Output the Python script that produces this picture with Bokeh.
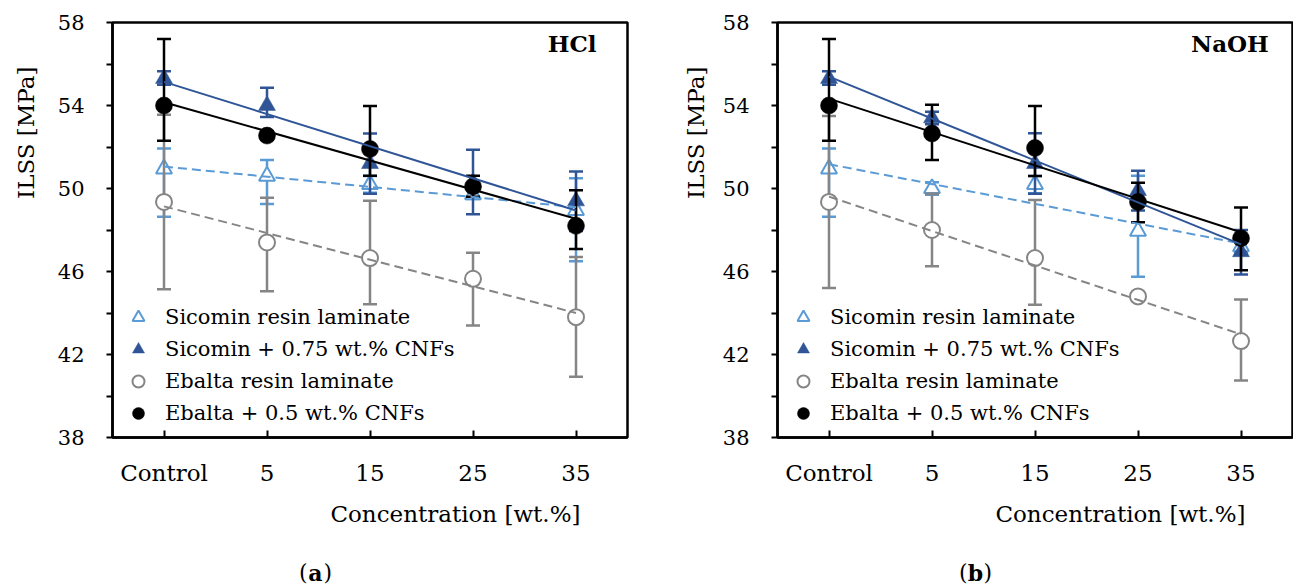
import numpy as np
from bokeh.plotting import figure
from bokeh.layouts import row, column
from bokeh.models import Range1d, FixedTicker, Legend, LegendItem, Label
from bokeh.embed import file_html
from bokeh.resources import INLINE

# ---- categories and ticks ----
categories = ["Control", "5", "15", "25", "35"]
positions = [0, 1, 2, 3, 4]
y_ticks = [38, 42, 46, 50, 54, 58]
y_minor_ticks = [40, 44, 48, 52, 56]

series_labels = [
    "Sicomin resin laminate",
    "Sicomin + 0.75 wt.% CNFs",
    "Ebalta resin laminate",
    "Ebalta + 0.5 wt.% CNFs",
]

# ---- HCl ageing: mean ILSS [MPa] with lower / upper error-bar ends ----
hcl_sicomin = [50.95, 50.6, 50.2, 49.7, 48.95]
hcl_sicomin_lo = [48.64, 49.25, 49.8, 49.5, 46.5]
hcl_sicomin_hi = [51.93, 51.37, 50.6, 49.9, 50.5]

hcl_sicomin_cnf = [55.3, 54.0, 51.2, 50.3, 49.4]
hcl_sicomin_cnf_lo = [55.0, 53.45, 49.75, 48.76, 47.95]
hcl_sicomin_cnf_hi = [55.65, 54.85, 52.65, 51.87, 50.82]

hcl_ebalta = [49.35, 47.4, 46.65, 45.65, 43.8]
hcl_ebalta_lo = [45.15, 45.05, 44.42, 43.4, 40.93]
hcl_ebalta_hi = [53.55, 49.55, 49.41, 46.9, 46.7]

hcl_ebalta_cnf = [54.0, 52.55, 51.9, 50.1, 48.2]
hcl_ebalta_cnf_lo = [52.3, 52.35, 50.62, 49.6, 47.08]
hcl_ebalta_cnf_hi = [57.2, 52.75, 53.98, 50.62, 49.92]

# ---- NaOH ageing ----
naoh_sicomin = [50.95, 50.0, 50.2, 47.95, 47.2]
naoh_sicomin_lo = [48.64, 49.7, 49.77, 45.75, 46.9]
naoh_sicomin_hi = [51.93, 50.3, 50.6, 50.62, 47.5]

naoh_sicomin_cnf = [55.3, 53.4, 51.2, 49.9, 46.95]
naoh_sicomin_cnf_lo = [55.0, 53.1, 49.75, 48.94, 45.85]
naoh_sicomin_cnf_hi = [55.65, 53.7, 52.66, 50.86, 48.0]

naoh_ebalta = [49.35, 48.0, 46.65, 44.8, 42.65]
naoh_ebalta_lo = [45.2, 46.25, 44.4, 44.6, 40.75]
naoh_ebalta_hi = [53.5, 49.75, 49.45, 45.0, 44.65]

naoh_ebalta_cnf = [54.0, 52.65, 51.95, 49.35, 47.6]
naoh_ebalta_cnf_lo = [52.3, 51.37, 50.6, 48.37, 46.06]
naoh_ebalta_cnf_hi = [57.2, 54.04, 53.98, 50.28, 49.08]

FONT = "DejaVu Serif"
LIGHT_BLUE = "#5B9BD5"
DARK_BLUE = "#2F5597"
GREY = "#858585"
BLACK = "#000000"

styles = [
    dict(marker="triangle", color=LIGHT_BLUE, fill="white", size=16, lw=2, dash="9 5"),
    dict(marker="triangle", color=DARK_BLUE, fill=DARK_BLUE, size=17, lw=0.5, dash="solid"),
    dict(marker="circle", color=GREY, fill="white", size=16, lw=2, dash="9 5"),
    dict(marker="circle", color=BLACK, fill=BLACK, size=17, lw=0.5, dash="solid"),
]

TOP_H = 497         # height of the plot row
BOTTOM_H = 89       # height of the strip with x title and caption


def blank(width, height, x_end, y_end):
    """A plain canvas in pixel-like coordinates (y grows downwards) for free text."""
    f = figure(width=width, height=height, x_range=Range1d(0, x_end), y_range=Range1d(y_end, 0),
               x_axis_type=None, y_axis_type=None, output_backend="svg", toolbar_location=None,
               min_border=0, outline_line_color=None)
    f.xgrid.visible = False
    f.ygrid.visible = False
    return f


def make_panel(series, tag, border_left, border_right, tag_x):
    p = figure(
        frame_width=515, frame_height=415,
        min_border_left=border_left, min_border_right=border_right,
        min_border_top=22, min_border_bottom=TOP_H - 22 - 415,
        x_range=Range1d(-0.5, 4.5), y_range=Range1d(38, 58),
        output_backend="svg", toolbar_location=None,
        background_fill_color="white", border_fill_color="white",
    )
    p.xgrid.visible = False
    p.ygrid.visible = False
    p.outline_line_color = "black"
    p.outline_line_width = 2.5

    # x axis: categories with inward ticks
    xa = p.xaxis[0]
    xa.ticker = FixedTicker(ticks=positions)
    xa.major_label_overrides = {pos: lab for pos, lab in zip(positions, categories)}
    xa.major_tick_in = 7
    xa.major_tick_out = 0
    xa.minor_tick_line_color = None
    xa.major_tick_line_width = 2
    xa.axis_line_width = 2.5
    xa.major_label_text_font = FONT
    xa.major_label_text_font_size = "23px"
    xa.major_label_text_color = "black"
    xa.major_label_standoff = 22

    # y axis: labelled every 4 MPa, minor marks in between
    ya = p.yaxis[0]
    ya.ticker = FixedTicker(ticks=y_ticks, minor_ticks=y_minor_ticks)
    ya.major_tick_in = 0
    ya.major_tick_out = 6
    ya.minor_tick_in = 0
    ya.minor_tick_out = 6
    ya.major_tick_line_width = 2
    ya.minor_tick_line_width = 2
    ya.minor_tick_line_color = "black"
    ya.axis_line_width = 2.5
    ya.major_label_text_font = FONT
    ya.major_label_text_font_size = "21px"
    ya.major_label_text_color = "black"
    ya.major_label_standoff = 22

    x = np.array(positions, dtype=float)
    marker_renderers = []
    for (mean, lo, hi), st in zip(series, styles):
        # error bars: stem plus caps
        p.segment(x0=x, y0=lo, x1=x, y1=hi, line_color=st["color"], line_width=2.5)
        p.scatter(x=x, y=lo, marker="dash", size=14, line_color=st["color"], line_width=2.5)
        p.scatter(x=x, y=hi, marker="dash", size=14, line_color=st["color"], line_width=2.5)
        r = p.scatter(
            x=x, y=mean, marker=st["marker"], size=st["size"],
            line_color=st["color"], fill_color=st["fill"], line_width=st["lw"],
        )
        marker_renderers.append(r)

    # linear trend lines over each series
    for (mean, lo, hi), st in zip(series, styles):
        slope, icpt = np.polyfit(x, np.array(mean), 1)
        xs = np.array([x[0], x[-1]])
        p.line(xs, slope * xs + icpt, line_color=st["color"], line_width=2, line_dash=st["dash"])

    legend = Legend(
        items=[LegendItem(label=lab, renderers=[r]) for lab, r in zip(series_labels, marker_renderers)],
        location=(11, 8), padding=0, margin=0, spacing=0,
        label_height=32, glyph_height=30, glyph_width=30, label_standoff=12,
        border_line_alpha=0, background_fill_alpha=0,
        label_text_font=FONT, label_text_font_size="21px", label_text_color="black",
    )
    p.add_layout(legend)

    # acid / alkali tag in the upper-right corner
    p.add_layout(Label(x=tag_x, y=57.0, text=tag, text_align="right", text_baseline="middle",
                       text_font=FONT, text_font_style="bold", text_font_size="23px",
                       text_color="black"))
    return p


def y_title_strip(width, center_x):
    s = blank(width, TOP_H, width, TOP_H)
    s.add_layout(Label(x=center_x, y=132, text="ILSS [MPa]", angle=np.pi / 2,
                       text_align="center", text_baseline="middle",
                       text_font=FONT, text_font_size="23px", text_color="black"))
    return s


def bottom_strip(width, title_right, caption_x, letter):
    s = blank(width, BOTTOM_H, width, BOTTOM_H)
    s.add_layout(Label(x=title_right, y=16, text="Concentration [wt.%]",
                       text_align="right", text_baseline="middle",
                       text_font=FONT, text_font_size="23px", text_color="black"))
    s.add_layout(Label(x=caption_x, y=75, text=letter, text_align="center", text_baseline="middle",
                       text_font=FONT, text_font_style="bold", text_font_size="22px", text_color="black"))
    s.add_layout(Label(x=caption_x, x_offset=-8, y=75, text="(", text_align="right", text_baseline="middle",
                       text_font=FONT, text_font_size="22px", text_color="black"))
    s.add_layout(Label(x=caption_x, x_offset=8, y=75, text=")", text_align="left", text_baseline="middle",
                       text_font=FONT, text_font_size="22px", text_color="black"))
    return s


hcl_series = [
    (hcl_sicomin, hcl_sicomin_lo, hcl_sicomin_hi),
    (hcl_sicomin_cnf, hcl_sicomin_cnf_lo, hcl_sicomin_cnf_hi),
    (hcl_ebalta, hcl_ebalta_lo, hcl_ebalta_hi),
    (hcl_ebalta_cnf, hcl_ebalta_cnf_lo, hcl_ebalta_cnf_hi),
]
naoh_series = [
    (naoh_sicomin, naoh_sicomin_lo, naoh_sicomin_hi),
    (naoh_sicomin_cnf, naoh_sicomin_cnf_lo, naoh_sicomin_cnf_hi),
    (naoh_ebalta, naoh_ebalta_lo, naoh_ebalta_hi),
    (naoh_ebalta_cnf, naoh_ebalta_cnf_lo, naoh_ebalta_cnf_hi),
]

# left block: 650 px wide (frame from x=112), right block: 643 px wide (frame from x=777)
LEFT_STRIP, RIGHT_STRIP = 50, 64
p_hcl = make_panel(hcl_series, "HCl", border_left=112 - LEFT_STRIP, border_right=23, tag_x=4.2)
p_naoh = make_panel(naoh_series, "NaOH", border_left=777 - 650 - RIGHT_STRIP, border_right=1, tag_x=4.27)

left_block = column(row(y_title_strip(LEFT_STRIP, 25), p_hcl, spacing=0),
                    bottom_strip(650, 580, 315, "a"), spacing=0)
right_block = column(row(y_title_strip(RIGHT_STRIP, 45), p_naoh, spacing=0),
                     bottom_strip(643, 1245 - 650, 975 - 650, "b"), spacing=0)

layout = row(left_block, right_block, spacing=0)
open("out.html", "w").write(file_html(layout, INLINE))
